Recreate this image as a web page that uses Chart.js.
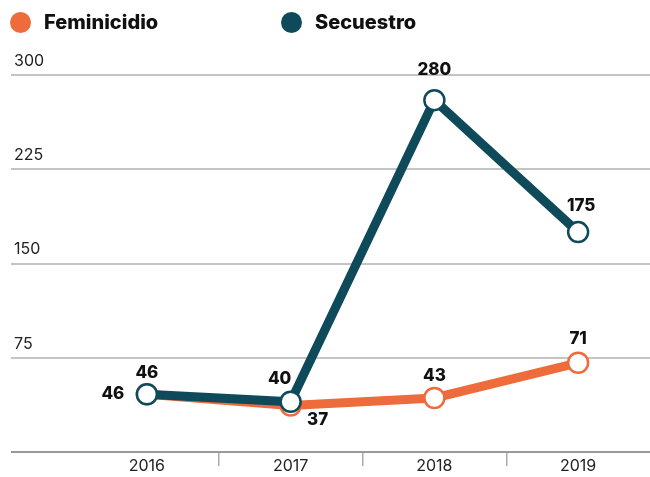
<!DOCTYPE html>
<html>
<head>
<meta charset="utf-8">
<script src="https://cdn.jsdelivr.net/npm/chart.js@4"></script>
<style>
  body { margin: 0; background: #fff; font-family: Inter, "Noto Sans", sans-serif; }
  #wrap { position: relative; width: 650px; height: 477px; }
  #legend { position: absolute; top: 0; left: 0; width: 650px; height: 44px; }
  .item { position: absolute; top: 10px; display: flex; align-items: center; font-weight: 800; font-size: 20px; color: #111; }
  .dot { width: 21px; height: 21px; border-radius: 50%; margin-right: 13px; }
</style>
</head>
<body>
<div id="wrap">
  <div id="legend"></div>
  <canvas id="chart" width="650" height="477"></canvas>
</div>
<script>
// データ
const years = ['2016', '2017', '2018', '2019'];
const feminicidio = [46, 37, 43, 71];
const secuestro = [46, 40, 280, 175];
const yTicks = [0, 75, 150, 225, 300];

const colorFem = '#ee6b3b';
const colorSec = '#0f4a5a';

// ラベル位置のずれ (px)
const femLabelShift = [[-34, 0], [27, 14], [0, -22], [0, -24]];
const secLabelShift = [[0, -21], [-11, -23], [0, -30], [3, -26]];

// 凡例
const legendEl = document.getElementById('legend');
[['Feminicidio', colorFem, 10], ['Secuestro', colorSec, 281]].forEach(([name, color, left]) => {
    const item = document.createElement('div');
    item.className = 'item';
    item.style.left = left + 'px';
    item.innerHTML = `<span class="dot" style="background:${color}"></span>${name}`;
    legendEl.appendChild(item);
});

const valueLabels = {
    id: 'valueLabels',
    afterDatasetsDraw(chart) {
        const ctx = chart.ctx;
        ctx.save();
        ctx.font = '800 17px Inter, "Noto Sans", sans-serif';
        ctx.fillStyle = '#111';
        ctx.textAlign = 'center';
        ctx.textBaseline = 'middle';
        chart.data.datasets.forEach((ds, di) => {
            const meta = chart.getDatasetMeta(di);
            meta.data.forEach((pt, i) => {
                const s = ds.labelShift[i];
                ctx.fillText(ds.data[i], pt.x + s[0], pt.y + s[1]);
            });
        });
        ctx.restore();
    }
};

new Chart(document.getElementById('chart'), {
    type: 'line',
    data: {
        labels: years,
        datasets: [
            {
                label: 'Feminicidio',
                data: feminicidio,
                labelShift: femLabelShift,
                borderColor: colorFem,
                borderWidth: 9,
                pointRadius: 10,
                pointBorderWidth: 2.5,
                pointBackgroundColor: '#fff',
                pointBorderColor: colorFem,
                clip: false,
                order: 2
            },
            {
                label: 'Secuestro',
                data: secuestro,
                labelShift: secLabelShift,
                borderColor: colorSec,
                borderWidth: 9,
                pointRadius: 10,
                pointBorderWidth: 2.5,
                pointBackgroundColor: '#fff',
                pointBorderColor: colorSec,
                clip: false,
                order: 1
            }
        ]
    },
    options: {
        responsive: false,
        animation: false,
        layout: { autoPadding: false, padding: { left: 14, right: 0, top: 75, bottom: 0 } },
        plugins: { legend: { display: false }, tooltip: { enabled: false } },
        scales: {
            x: {
                offset: true,
                border: { display: false },
                grid: {
                    offset: true,
                    drawOnChartArea: false,
                    tickLength: 14,
                    lineWidth: 1.5,
                    color: (c) => (c.index > 0 && c.index < years.length) ? '#aaa' : 'rgba(0,0,0,0)'
                },
                ticks: {
                    padding: -9,
                    color: '#222',
                    font: { family: 'Inter', size: 16 }
                },
                afterFit: (scale) => { scale.height = 25; }
            },
            y: {
                min: 0,
                max: 300,
                afterBuildTicks: (scale) => { scale.ticks = yTicks.map(v => ({ value: v })); },
                border: { display: false },
                grid: {
                    tickLength: 64,
                    lineWidth: 2,
                    color: (c) => c.tick && c.tick.value === 0 ? '#999' : '#c4c4c4'
                },
                ticks: {
                    crossAlign: 'far',
                    labelOffset: -14,
                    color: '#222',
                    font: { family: 'Inter', size: 16 },
                    callback: (v) => v === 0 ? '' : v
                },
                afterFit: (scale) => { scale.width = 61; }
            }
        }
    },
    plugins: [valueLabels]
});
</script>
</body>
</html>
